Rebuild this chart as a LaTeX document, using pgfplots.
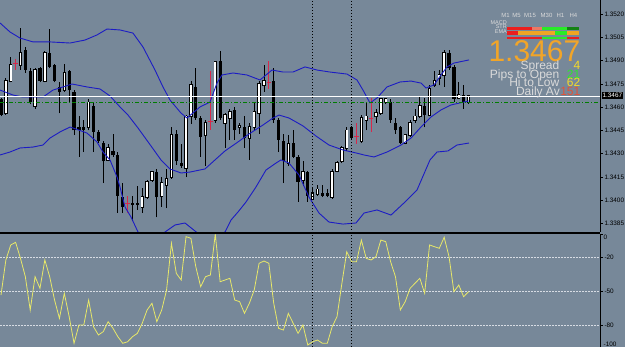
\documentclass[border=0pt]{standalone}
\usepackage{pgfplots}
\usepackage{pgfplotstable}
\pgfplotsset{compat=1.18}
\usepackage{fontspec}
\setmainfont{Liberation Sans}

\definecolor{bg}{RGB}{119,136,153}
\definecolor{bandblue}{RGB}{28,28,196}
\definecolor{wryel}{RGB}{232,232,105}
\definecolor{gridc}{RGB}{215,220,228}
\definecolor{hgreen}{RGB}{0,125,0}
\definecolor{dojired}{RGB}{215,40,75}
\definecolor{bigor}{RGB}{242,165,40}
\definecolor{lbl}{RGB}{218,218,218}
\definecolor{yel}{RGB}{245,218,40}
\definecolor{grn}{RGB}{45,230,45}
\definecolor{tom}{RGB}{228,82,55}
\definecolor{cred}{RGB}{235,30,30}
\definecolor{csal}{RGB}{238,120,100}
\definecolor{clime}{RGB}{40,235,40}
\definecolor{cdkg}{RGB}{20,130,20}
\definecolor{cora}{RGB}{240,165,35}

\pgfplotstableread{
i o h l c
0 1.3465 1.3466 1.3454 1.3455
5 1.3497 1.3499 1.3482 1.3484
6 1.3483 1.3485 1.3462 1.3463
8 1.3485 1.3486 1.3476 1.3477
10 1.3495 1.3510 1.3485 1.3486
11 1.3487 1.3488 1.3476 1.3477
12 1.3473 1.3476 1.3456 1.3470
14 1.3483 1.3484 1.3463 1.3471
15 1.3470 1.3471 1.3442 1.3445
16 1.3447 1.3454 1.3428 1.3445
17 1.3447 1.3452 1.3431 1.3445
19 1.3461 1.3463 1.3431 1.3444
20 1.3444 1.3445 1.3437 1.3438
21 1.3437 1.3438 1.3411 1.3425
23 1.3432 1.3443 1.3428 1.3429
24 1.3429 1.3431 1.3392 1.3403
25 1.3402 1.3411 1.3392 1.3396
27 1.3398 1.3403 1.3387 1.3397
28 1.3398 1.3409 1.3394 1.3397
32 1.3418 1.3420 1.3389 1.3402
36 1.3443 1.3445 1.3423 1.3425
37 1.3424 1.3436 1.3421 1.3422
40 1.3473 1.3485 1.3452 1.3453
41 1.3453 1.3454 1.3428 1.3441
45 1.3490 1.3496 1.3452 1.3453
48 1.3458 1.3460 1.3439 1.3445
50 1.3447 1.3454 1.3434 1.3440
56 1.3477 1.3485 1.3450 1.3452
57 1.3452 1.3453 1.3431 1.3439
58 1.3438 1.3443 1.3411 1.3425
60 1.3437 1.3445 1.3427 1.3428
61 1.3428 1.3429 1.3399 1.3412
63 1.3418 1.3419 1.3399 1.3403
66 1.3405 1.3410 1.3402 1.3403
67 1.3405 1.3407 1.3402 1.3403
72 1.3447 1.3448 1.3439 1.3440
80 1.3463 1.3465 1.3450 1.3452
81 1.3450 1.3453 1.3443 1.3445
82 1.3447 1.3448 1.3436 1.3437
87 1.3461 1.3466 1.3447 1.3455
92 1.3495 1.3497 1.3484 1.3485
93 1.3486 1.3487 1.3463 1.3465
95 1.3468 1.3474 1.3459 1.3463
}\bear

\pgfplotstableread{
i o h l c
1 1.3456 1.3479 1.3455 1.3477
2 1.3477 1.3492 1.3476 1.3487
4 1.3487 1.3511 1.3484 1.3495
7 1.3461 1.3485 1.3459 1.3484
9 1.3477 1.3496 1.3476 1.3495
13 1.3471 1.3488 1.3470 1.3482
18 1.3447 1.3465 1.3445 1.3463
22 1.3426 1.3436 1.3425 1.3434
29 1.3396 1.3408 1.3392 1.3402
30 1.3402 1.3413 1.3401 1.3412
31 1.3413 1.3419 1.3412 1.3418
33 1.3403 1.3415 1.3396 1.3411
34 1.3410 1.3420 1.3395 1.3414
35 1.3415 1.3447 1.3414 1.3442
38 1.3421 1.3455 1.3415 1.3454
39 1.3454 1.3477 1.3449 1.3474
42 1.3442 1.3452 1.3422 1.3450
44 1.3452 1.3490 1.3450 1.3489
46 1.3450 1.3456 1.3434 1.3455
47 1.3453 1.3459 1.3439 1.3457
49 1.3447 1.3450 1.3443 1.3448
51 1.3440 1.3450 1.3426 1.3447
52 1.3447 1.3463 1.3445 1.3457
53 1.3456 1.3477 1.3443 1.3475
54 1.3474 1.3487 1.3470 1.3477
59 1.3424 1.3442 1.3422 1.3436
62 1.3413 1.3425 1.3409 1.3418
64 1.3401 1.3408 1.3400 1.3405
65 1.3404 1.3410 1.3403 1.3407
68 1.3402 1.3420 1.3401 1.3418
69 1.3419 1.3425 1.3418 1.3424
70 1.3425 1.3435 1.3424 1.3434
71 1.3434 1.3447 1.3432 1.3445
74 1.3438 1.3455 1.3437 1.3453
75 1.3452 1.3463 1.3445 1.3454
77 1.3454 1.3459 1.3450 1.3456
78 1.3456 1.3466 1.3455 1.3465
79 1.3463 1.3466 1.3462 1.3465
83 1.3437 1.3443 1.3436 1.3442
84 1.3442 1.3452 1.3441 1.3450
85 1.3452 1.3459 1.3450 1.3454
86 1.3454 1.3467 1.3453 1.3461
88 1.3455 1.3474 1.3454 1.3472
89 1.3474 1.3483 1.3473 1.3477
90 1.3479 1.3484 1.3474 1.3481
91 1.3481 1.3497 1.3473 1.3495
94 1.3466 1.3476 1.3465 1.3468
96 1.3463 1.3468 1.3462 1.3467
}\bull

\pgfplotstableread{
i o h l c
3 1.3488 1.3491 1.3484 1.3488
26 1.3398 1.3403 1.3392 1.3398
43 1.3451 1.3483 1.3445 1.3451
55 1.3476 1.3490 1.3472 1.3476
73 1.3441 1.3450 1.3436 1.3441
76 1.3453 1.3466 1.3444 1.3453
}\doji

\pgfplotstableread{
i v
0 -53.2
1 -22.6
2 -9.5
3 -7.2
4 -21.2
5 -37.2
6 -66.3
7 -37.2
8 -47.4
9 -22.6
10 -37.2
11 -57.6
12 -73.6
13 -51.7
14 -72.1
15 -95.4
16 -79.4
17 -79.4
18 -57.6
19 -80.9
20 -88.1
21 -85.2
22 -76.5
23 -82.3
24 -89.6
25 -95.4
26 -94.0
27 -89.6
28 -86.7
29 -77.9
30 -66.3
31 -60.4
32 -76.5
33 -66.3
34 -48.8
35 -8.1
36 -34.3
37 -40.1
38 -2.2
39 -3.7
40 -28.5
41 -45.9
42 -37.2
43 -35.7
44 0
45 -41.6
46 -40.1
47 -38.6
48 -57.6
49 -59.0
50 -69.2
51 -60.4
52 -48.8
53 -25.5
54 -23.5
55 -25.5
56 -60.4
57 -82.3
58 -83.8
59 -69.2
60 -77.9
61 -86.7
62 -79.4
63 -96.9
64 -94.0
65 -92.5
66 -95.4
67 -95.4
68 -80.9
69 -72.1
70 -43.0
71 -15.4
72 -24.1
73 -24.1
74 -5.2
75 -21.2
76 -22.6
77 -19.7
78 -5.2
79 -6.6
80 -24.1
81 -37.2
82 -66.3
83 -59.0
84 -47.4
85 -43.0
86 -38.6
87 -51.7
88 -9.5
89 -11.0
90 -12.4
91 -2.8
92 -19.7
93 -50.3
94 -44.5
95 -54.7
96 -50.3
}\wpr

\pgfplotsset{mt/.style={
  scale only axis, anchor=south west,
  xmin=-0.205, xmax=123.0,
  axis x line=none, axis y line*=right,
  y axis line style={black, line width=0.9pt},
  tick align=outside, major tick length=2.5pt,
  ytick style={black, line width=0.6pt},
  yticklabel style={font=\fontsize{6.4}{7}\selectfont, text=black, xshift=-1.5pt},
  scaled y ticks=false, clip=true},
  nomark/.style={draw=none, mark=none, forget plot}}

\begin{document}
\begin{tikzpicture}[x=1pt,y=1pt]
\fill[bg] (0pt,0pt) rectangle (625pt,347pt);

% ---------- main price panel ----------
\begin{axis}[mt, at={(0pt,115pt)}, width=600pt, height=232pt,
  ymin=1.33796, ymax=1.3529,
  ytick={1.3385,1.34,1.3415,1.343,1.3445,1.346,1.3475,1.349,1.3505,1.352},
  yticklabels={1.3385,1.3400,1.3415,1.3430,1.3445,1.3460,1.3475,1.3490,1.3505,1.3520}]

% wicks
\addplot[nomark,
  error bars/.cd, y dir=plus, y explicit, error mark=none,
  error bar style={draw=black, line width=0.8pt}]
  table[x=i, y=l, y error plus expr={\thisrow{h}-\thisrow{l}}] {\bear};
\addplot[nomark,
  error bars/.cd, y dir=plus, y explicit, error mark=none,
  error bar style={draw=black, line width=0.8pt}]
  table[x=i, y=l, y error plus expr={\thisrow{h}-\thisrow{l}}] {\bull};
% bear bodies
\addplot[nomark,
  error bars/.cd, y dir=plus, y explicit, error mark=none,
  error bar style={draw=black, line width=3.2pt}]
  table[x=i, y=c, y error plus expr={\thisrow{o}-\thisrow{c}}] {\bear};
% bull bodies: outline + white fill
\addplot[nomark,
  error bars/.cd, y dir=both, y explicit, error mark=none,
  error bar style={draw=black, line width=3.4pt}]
  table[x=i, y=o, y error plus expr={\thisrow{c}-\thisrow{o}+0.00006}, y error minus expr={0.00006}] {\bull};
\addplot[nomark,
  error bars/.cd, y dir=plus, y explicit, error mark=none,
  error bar style={draw=white, line width=1.6pt}]
  table[x=i, y=o, y error plus expr={\thisrow{c}-\thisrow{o}}] {\bull};
% doji crosses
\addplot[only marks, color=dojired, mark=-, mark size=2.2pt, mark options={line width=0.9pt}, forget plot,
  error bars/.cd, y dir=both, y explicit, error mark=none,
  error bar style={draw=dojired, line width=0.8pt}]
  table[x=i, y=c, y error plus expr={\thisrow{h}-\thisrow{c}}, y error minus expr={\thisrow{c}-\thisrow{l}}] {\doji};

% Bollinger bands
\addplot[bandblue, line width=0.9pt] coordinates {
(-0.2,1.35142) (1.85,1.35084) (3.9,1.35045) (6.57,1.35020) (10.06,1.35020) (14.17,1.35013)
(17.25,1.35032) (19.71,1.35065) (21.77,1.35103) (24.44,1.35097) (27.1,1.35077) (29.16,1.34987)
(31.62,1.34839) (33.26,1.34730) (34.7,1.34646) (36.96,1.34562) (38.19,1.34530) (40.86,1.34601)
(42.92,1.34633) (44.35,1.34755) (45.38,1.34807) (47.64,1.34820) (50.51,1.34807) (53.18,1.34775)
(55.65,1.34839) (57.91,1.34826) (59.96,1.34826) (62.42,1.34859) (64.89,1.34839) (67.56,1.34826)
(71.05,1.34813) (73.1,1.34775) (74.33,1.34710) (75.77,1.34627) (77.21,1.34659) (79.26,1.34730)
(81.93,1.34762) (84.19,1.34768) (86.24,1.34755) (87.27,1.34723) (88.91,1.34743) (90.35,1.34807)
(91.58,1.34859) (93.02,1.34884) (96.1,1.34904)};
\addplot[bandblue, line width=0.9pt] coordinates {
(-0.2,1.34710) (2.46,1.34678) (4.52,1.34665) (6.57,1.34665) (8.62,1.34665) (10.68,1.34710)
(12.73,1.34730) (14.58,1.34749) (17.66,1.34730) (20.33,1.34717) (22.38,1.34672) (24.44,1.34601)
(26.08,1.34549) (28.13,1.34466) (30.8,1.34350) (32.85,1.34260) (34.7,1.34202) (36.96,1.34176)
(38.81,1.34182) (41.89,1.34202) (43.94,1.34260) (46.0,1.34318) (48.67,1.34376) (50.92,1.34427)
(53.8,1.34485) (55.85,1.34530) (57.08,1.34549) (59.14,1.34530) (62.01,1.34479) (64.68,1.34414)
(67.35,1.34356) (70.23,1.34324) (72.9,1.34305) (74.54,1.34292) (76.59,1.34279) (79.26,1.34311)
(82.14,1.34356) (84.19,1.34401) (86.24,1.34472) (88.3,1.34537) (90.35,1.34582) (92.4,1.34614)
(95.07,1.34633) (96.1,1.34640)};
\addplot[bandblue, line width=0.9pt] coordinates {
(-0.2,1.34292) (1.85,1.34311) (3.9,1.34337) (6.57,1.34343) (8.62,1.34356) (10.06,1.34401)
(12.11,1.34440) (14.17,1.34472) (14.78,1.34466) (17.66,1.34433) (19.71,1.34376) (20.94,1.34311)
(22.38,1.34260) (23.82,1.34150) (24.44,1.34086) (25.46,1.33957) (26.69,1.33893) (28.13,1.33796)
(29.57,1.33744) (31.62,1.33732) (33.68,1.33796) (35.73,1.33841) (37.78,1.33854) (38.81,1.33828)
(40.86,1.33777) (43.53,1.33757) (46.0,1.33796) (47.23,1.33873) (48.67,1.33925) (50.31,1.33989)
(52.36,1.34086) (54.41,1.34195) (56.47,1.34240) (57.49,1.34260) (59.14,1.34240) (61.19,1.34163)
(63.24,1.34021) (65.3,1.33918) (67.35,1.33860) (70.23,1.33847) (72.9,1.33854) (74.54,1.33918)
(77.21,1.33938) (80.08,1.33905) (82.75,1.33983) (85.42,1.34066) (88.09,1.34260) (89.53,1.34311)
(91.79,1.34318) (93.63,1.34356) (96.1,1.34369)};

% price line and horizontal level
\addplot[white, line width=0.8pt] coordinates {(-0.205,1.3467) (123,1.3467)};
\addplot[hgreen, line width=0.8pt, dash pattern=on 4pt off 2pt on 1pt off 2pt] coordinates {(-0.205,1.34631) (123,1.34631)};
\end{axis}

% ---------- Williams %R panel ----------
\begin{axis}[mt, at={(0pt,-1.6pt)}, width=600pt, height=114.5pt,
  ymin=-100, ymax=0,
  ytick={0,-20,-50,-80,-100},
  yticklabels={,-20,-50,-80,}]
\addplot[gridc, line width=0.7pt, dash pattern=on 1.5pt off 1.5pt] coordinates {(-0.205,-20) (123,-20)};
\addplot[gridc, line width=0.7pt, dash pattern=on 1.5pt off 1.5pt] coordinates {(-0.205,-50) (123,-50)};
\addplot[gridc, line width=0.7pt, dash pattern=on 1.5pt off 1.5pt] coordinates {(-0.205,-80) (123,-80)};
\addplot[wryel, line width=0.8pt] table[x=i, y=v] {\wpr};
\end{axis}

% panel separator
\draw[black, line width=2pt] (0pt,114pt) -- (600pt,114pt);
% period separators
\draw[black, line width=0.7pt, dash pattern=on 1pt off 2pt] (312.7pt,0pt) -- (312.7pt,347pt);
\draw[black, line width=0.7pt, dash pattern=on 1pt off 2pt] (351.6pt,0pt) -- (351.6pt,347pt);

% right-scale extras
\node[anchor=west, inner sep=0, font=\fontsize{6.4}{7}\selectfont] at (603.5pt,110pt) {0};
\node[anchor=west, inner sep=0, font=\fontsize{6.4}{7}\selectfont] at (603.5pt,3pt) {-100};
\node[anchor=west, fill=black, text=white, inner sep=0.9pt, font=\fontsize{6.4}{7}\selectfont] at (601.5pt,251.5pt) {1.3467};

% info panel
\foreach \xx/\tt in {505.5/M1, 516.5/M5, 530/M15, 546.5/M30, 560.5/H1, 573.5/H4}
  \node[anchor=base, inner sep=0, font=\fontsize{6}{6}\selectfont, text=lbl] at (\xx pt,329pt) {\tt};
\node[anchor=base east, inner sep=0, font=\fontsize{5.5}{5.5}\selectfont, text=lbl] at (507pt,322pt) {MACD};
\node[anchor=base east, inner sep=0, font=\fontsize{5.5}{5.5}\selectfont, text=lbl] at (507pt,318.3pt) {STR};
\node[anchor=base east, inner sep=0, font=\fontsize{5.5}{5.5}\selectfont, text=lbl] at (507pt,313.7pt) {EMA};
\fill[cred] (506.7pt,317pt) rectangle (531.7pt,320.3pt);
\fill[csal] (531.7pt,317pt) rectangle (541.7pt,320.3pt);
\fill[clime] (541.7pt,317pt) rectangle (566.7pt,320.3pt);
\fill[cdkg] (566.7pt,317pt) rectangle (579.3pt,320.3pt);
\fill[cred] (506.7pt,312.3pt) rectangle (518pt,315.7pt);
\fill[cora] (518pt,312.3pt) rectangle (555pt,315.7pt);
\fill[clime] (555pt,312.3pt) rectangle (567pt,315.7pt);
\fill[cora] (567pt,312.3pt) rectangle (579.3pt,315.7pt);
\fill[cred] (506.7pt,307.7pt) rectangle (541.7pt,310.3pt);
\fill[clime] (541.7pt,307.7pt) rectangle (566.7pt,310.3pt);
\fill[cred] (566.7pt,307.7pt) rectangle (579.3pt,310.3pt);

\node[anchor=base east, inner sep=0, font=\fontsize{30}{30}\selectfont, text=bigor] at (580.5pt,285pt) {1.3467};
\node[anchor=base east, inner sep=0, font=\fontsize{12}{12}\selectfont, text=lbl] at (559.5pt,277.3pt) {Spread};
\node[anchor=base east, inner sep=0, font=\fontsize{12}{12}\selectfont, text=yel] at (580.5pt,277.3pt) {4};
\node[anchor=base east, inner sep=0, font=\fontsize{12}{12}\selectfont, text=lbl] at (559.5pt,268.7pt) {Pips to Open};
\node[anchor=base east, inner sep=0, font=\fontsize{12}{12}\selectfont, text=grn] at (580.5pt,268.7pt) {21};
\node[anchor=base east, inner sep=0, font=\fontsize{12}{12}\selectfont, text=lbl] at (559.5pt,260pt) {Hi to Low};
\node[anchor=base east, inner sep=0, font=\fontsize{12}{12}\selectfont, text=yel] at (580.5pt,260pt) {62};
\node[anchor=base east, inner sep=0, font=\fontsize{12}{12}\selectfont, text=lbl] at (560pt,251.4pt) {Daily Av};
\node[anchor=base east, inner sep=0, font=\fontsize{12}{12}\selectfont, text=tom] at (580.5pt,251.4pt) {151};

\pgfresetboundingbox
\useasboundingbox (0pt,0pt) rectangle (625pt,347pt);
\end{tikzpicture}
\end{document}
